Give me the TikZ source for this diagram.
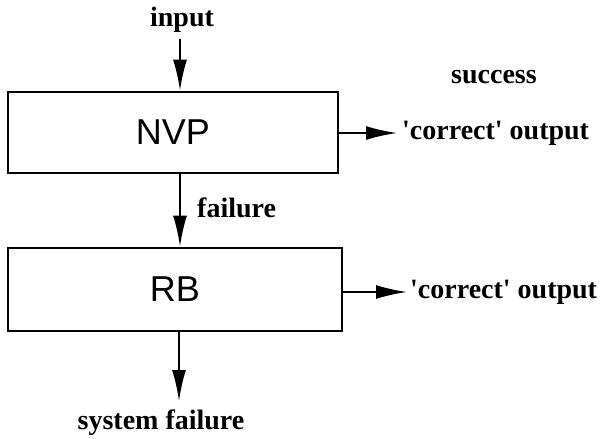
\documentclass[tikz,border=0pt]{standalone}
\usepackage{fontspec}
\newfontfamily\lblfont{Liberation Serif}[Ligatures=TeXOff]
\newfontfamily\boxfont{Liberation Sans}
\usepackage{tikz}
\usetikzlibrary{positioning,arrows.meta,calc}
\tikzset{
  flowarrow/.style={-{Latex[length=31pt,width=14pt]}, line width=2pt},
  procbox/.style={draw, line width=2.8pt, inner sep=0pt, font=\boxfont\fontsize{36}{40}\selectfont},
  lbl/.style={inner sep=0pt, font=\lblfont\bfseries\fontsize{28}{32}\selectfont}
}
\begin{document}
\begin{tikzpicture}[x=1pt, y=-1pt]
      \useasboundingbox (0,0) rectangle (606,439);
      \node[procbox, minimum width=330pt, minimum height=81pt] (nvp) at (173,132.5) {NVP};
      \node[procbox, minimum width=334pt, minimum height=83pt] (rb) at (175,289.5) {RB};
      \node[lbl] (inlbl) at (182,20) {input};
      \node[lbl] (succ) at (494,77) {success};
      \node[lbl, anchor=west, inner xsep=5pt] (okA) at (397,133) {'correct' output};
      \node[lbl, anchor=west, inner xsep=3pt] (okB) at (407,292) {'correct' output};
      \node[lbl, anchor=west] (faillbl) at (197,208) {failure};
      \node[lbl] (syslbl) at (161,423) {system failure};
      \coordinate (intop) at (180,39);
      \coordinate (sysend) at (179,401);
      \draw[flowarrow] (intop) -- (intop |- nvp.north);
      \draw[flowarrow] (nvp.south -| intop) -- (rb.north -| intop);
      \draw[flowarrow] (rb.south -| sysend) -- (sysend);
      \draw[flowarrow] (nvp.east |- okA.west) -- (okA.west);
      \draw[flowarrow] (rb.east |- okB.west) -- (okB.west);
    \end{tikzpicture}
\end{document}
